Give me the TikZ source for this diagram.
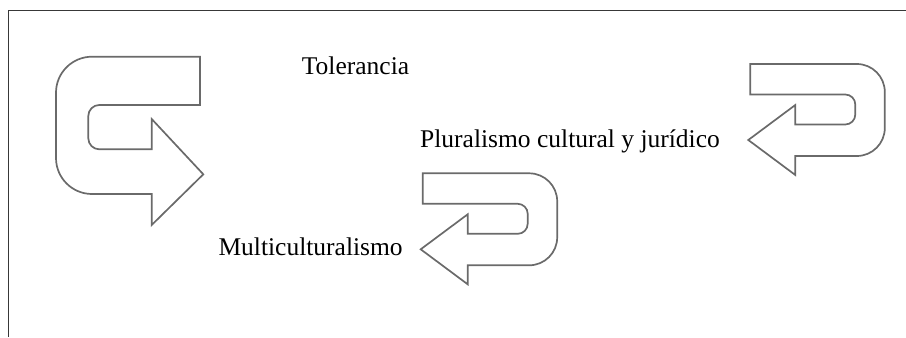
\documentclass[tikz,border=0pt]{standalone}
\usepackage{fontspec}
\setmainfont{Liberation Serif}
\definecolor{framec}{HTML}{383838}
\definecolor{arrowc}{HTML}{6A6A6A}
\tikzset{
  frameline/.style={draw=framec, line width=1.7bp},
  ushape/.style={draw=arrowc, line width=1.7bp, line join=miter},
  lbl/.style={font=\fontsize{25.5bp}{30bp}\selectfont, inner sep=0pt, anchor=base west, text=black},
  uarrow/.pic={
    \draw[ushape] (0,0) -- (47,35) -- (47,15.5) -- (97,15.5)
      arc[start angle=-90, end angle=0, radius=10bp] -- (107,35.5)
      arc[start angle=0, end angle=90, radius=10bp] -- (2,45.5) -- (2,76) -- (108.5,76)
      arc[start angle=90, end angle=0, radius=28bp] -- (136.5,12)
      arc[start angle=0, end angle=-90, radius=28bp] -- (47,-16) -- (47,-35) -- cycle;
  }
}
\begin{document}
\begin{tikzpicture}[x=1bp,y=1bp]
  \useasboundingbox (0,0) rectangle (906,337);
  % frame (top and left edges)
  \draw[frameline] (8.5,0) -- (8.5,326.5) -- (906,326.5);
  % left C-shaped arrow
  \draw[ushape] (200,280.3) -- (200,232) -- (99.3,232)
    arc[start angle=90, end angle=180, radius=11bp] -- (88.3,198.7)
    arc[start angle=180, end angle=270, radius=11bp] -- (151.7,187.7)
    -- (151.7,218) -- (203.3,162.7) -- (151.7,112) -- (151.7,143) -- (92,143)
    arc[start angle=270, end angle=180, radius=36bp] -- (56,244.3)
    arc[start angle=180, end angle=90, radius=36bp] -- cycle;
  % U-turn arrows
  \pic at (420.7,87.7) {uarrow};
  \pic at (748.3,197) {uarrow};
  % labels
  \node[lbl] (tol) at (301.7,262.7) {Tolerancia};
  \node[lbl] (plu) at (420,189.3) {Pluralismo cultural y jurídico};
  \node[lbl] (mul) at (218.3,82) {Multiculturalismo};
\end{tikzpicture}
\end{document}
